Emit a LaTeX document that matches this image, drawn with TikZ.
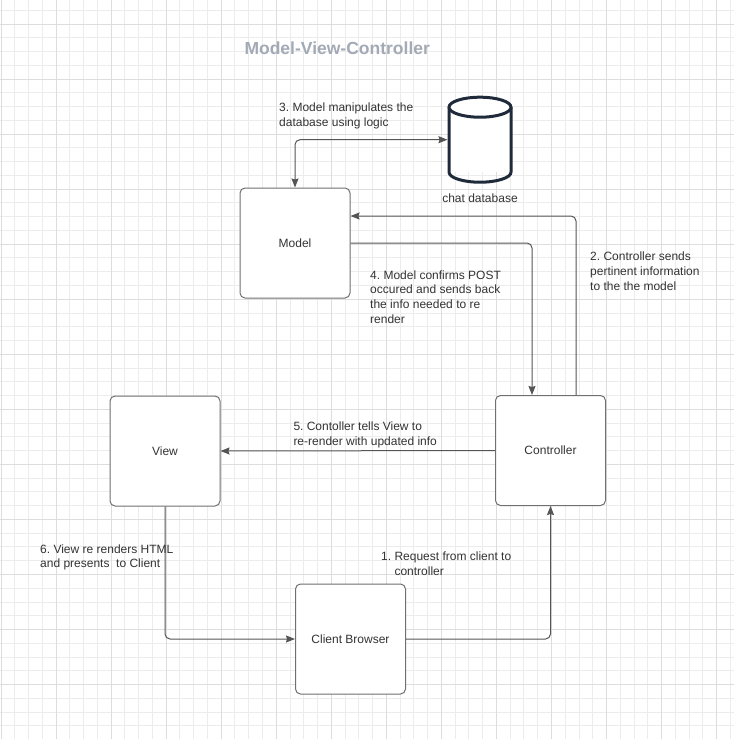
\documentclass[tikz,border=0pt]{standalone}
\usepackage{fontspec}
\setmainfont{Liberation Sans}
\usepackage{tikz}
\usetikzlibrary{arrows.meta,positioning,calc}
\definecolor{mvcgrid}{RGB}{236,236,236}
\definecolor{mvcgridmajor}{RGB}{221,221,221}
\definecolor{mvctitle}{RGB}{163,170,182}
\definecolor{mvctext}{RGB}{51,51,51}
\definecolor{mvcline}{RGB}{85,85,85}
\definecolor{mvcedge}{RGB}{112,112,112}
\definecolor{mvcdb}{RGB}{31,43,58}

\begin{document}
\frenchspacing
\begin{tikzpicture}[x=1pt, y=-1pt,
    mvcbox/.style={draw=mvcedge, line width=1pt, rounded corners=5pt, fill=white,
        minimum width=110pt, minimum height=110pt, inner sep=0pt,
        font=\fontsize{12}{14.6}\selectfont, text=mvctext},
    link/.style={draw=mvcline, line width=1pt, rounded corners=5pt,
        -{Stealth[length=9pt, width=7pt, inset=1pt]}},
    dbline/.style={draw=mvcdb, line width=3pt, line join=round},
    note/.style={anchor=north west, align=left, inner sep=0pt,
        font=\fontsize{12}{14.6}\selectfont, text=mvctext}]
    % Background and grid
    \fill[white] (0,0) rectangle (734,739);
    \useasboundingbox (0,0) rectangle (734,739);
    \foreach \k in {0,...,53}
        \draw[mvcgrid, line width=1pt] ({1+13.762*\k},0) -- ({1+13.762*\k},739);
    \foreach \k in {-1,...,52}
        \draw[mvcgrid, line width=1pt] (0,{24+13.762*\k}) -- (734,{24+13.762*\k});
    \foreach \k in {0,...,13}
        \draw[mvcgridmajor, line width=1pt] ({1+55.05*\k},0) -- ({1+55.05*\k},739);
    \foreach \k in {0,...,13}
        \draw[mvcgridmajor, line width=1pt] (0,{24+55.05*\k}) -- (734,{24+55.05*\k});

    % Title
    \node[font=\bfseries\fontsize{17.5}{20}\selectfont, text=mvctitle] (title) at (337.2,48) {Model-View-Controller};

    % Boxes
    \node[mvcbox] (model) at (295,243) {Model};
    \node[mvcbox] (view) at (165,451) {View};
    \node[mvcbox] (controller) at (550.5,450.5) {Controller};
    \node[mvcbox] (client) at (350.5,639) {Client Browser};

    % Database (cylinder)
    \node[minimum width=62pt, minimum height=85pt, inner sep=0pt, outer sep=1.5pt] (db) at (480,139.7) {};
    \fill[white] (449,107.2) rectangle (511,172.2);
    \draw[dbline] (449,107.2) -- (449,172.2)
        arc[start angle=180, end angle=0, x radius=31, y radius=10] -- (511,107.2);
    \draw[dbline, fill=white] (480,107.2) ellipse [x radius=31, y radius=10];
    \node[note, anchor=north, below=10pt of db] (dblabel) {chat database};

    % Connectors
    \draw[link, {Stealth[length=9pt, width=7pt, inset=1pt]}-{Stealth[length=9pt, width=7pt, inset=1pt]}]
        (model.north) |- (db.west);
    \draw[link] ([xshift=25.5pt]controller.north) |- ([yshift=27pt]model.east);
    \draw[link] (model.east) -| ([xshift=-18.5pt]controller.north);
    \draw[link] (controller.west) -- (view.east);
    \draw[link] (view.south) |- (client.west);
    \draw[link] (client.east) -| (controller.south);

    % Labels
    \node[note] (step3) at (279,103) {3. Model manipulates the\\database using logic};
    \node[note] (step2) at (590,252) {2. Controller sends\\pertinent information\\to the the model};
    \node[note] (step4) at (370,270.3) {4. Model confirms POST\\occured and sends back\\the info needed to re\\render};
    \node[note] (step5) at (293.3,422) {5. Contoller tells View to\\re-render with updated info};
    \node[note] (step6) at (40,544.3) {6. View re renders HTML\\and presents\ \ to Client};
    \node[note] (step1) at (381,552) {1. Request from client to\\\phantom{1. }controller};
\end{tikzpicture}
\end{document}
